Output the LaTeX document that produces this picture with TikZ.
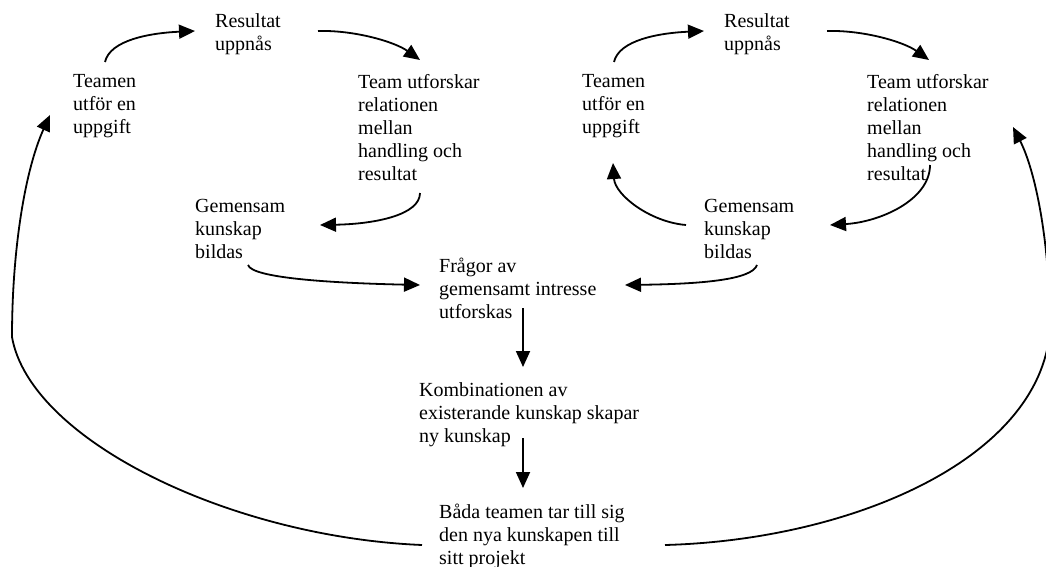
\documentclass[tikz,border=0pt]{standalone}
\usepackage{fontspec}
\setmainfont{Liberation Serif}
\usetikzlibrary{arrows.meta}
\begin{document}
\begin{tikzpicture}[x=1pt,y=-1pt,
  txt/.style={anchor=base west,inner sep=0pt,align=left,
    font=\fontsize{20}{23}\selectfont},
  flow/.style={line width=1.8pt,-{Triangle[length=16pt,width=14pt]}}]
\useasboundingbox (0,0) rectangle (1046,567);

% each text node sits on the baseline of its last line
% left cycle
\node[txt] (teamL) at (73,134)  {Teamen\\utför en\\uppgift};
\node[txt] (resL)  at (215,51)  {Resultat\\uppnås};
\node[txt] (utfL)  at (358,180) {Team utforskar\\relationen\\mellan\\handling och\\resultat};
\node[txt] (gemL)  at (195,258) {Gemensam\\kunskap\\bildas};

% right cycle
\node[txt] (teamR) at (582,134) {Teamen\\utför en\\uppgift};
\node[txt] (resR)  at (724,51)  {Resultat\\uppnås};
\node[txt] (utfR)  at (867,180) {Team utforskar\\relationen\\mellan\\handling och\\resultat};
\node[txt] (gemR)  at (704,258) {Gemensam\\kunskap\\bildas};

% shared column
\node[txt] (fragor) at (439,318) {Frågor av\\gemensamt intresse\\utforskas};
\node[txt] (komb)   at (419,442) {Kombinationen av\\existerande kunskap skapar\\ny kunskap};
\node[txt] (bada)   at (439,564) {Båda teamen tar till sig\\den nya kunskapen till\\sitt projekt};

% left cycle arrows
\draw[flow] ([shift={(32,-72)}]teamL.base west) .. controls +(5,-22) and +(-45,2) .. ([shift={(-20,-20)}]resL.base west);
\draw[flow] ([shift={(103,-20)}]resL.base west) .. controls +(37,-1) and +(-25,-18) .. ([shift={(62,-120)}]utfL.base west);
\draw[flow] ([shift={(62,13)}]utfL.base west) .. controls +(0,22) and +(55,-1) .. ([shift={(125,-33)}]gemL.base west);
\draw[flow] ([shift={(53,7)}]gemL.base west) .. controls +(4,13) and +(-90,-2) .. ([shift={(-19,-33)}]fragor.base west);

% right cycle arrows
\draw[flow] ([shift={(32,-72)}]teamR.base west) .. controls +(5,-22) and +(-45,2) .. ([shift={(-20,-20)}]resR.base west);
\draw[flow] ([shift={(103,-20)}]resR.base west) .. controls +(37,-1) and +(-25,-18) .. ([shift={(62,-120)}]utfR.base west);
\draw[flow] ([shift={(63,-15)}]utfR.base west) .. controls +(0,35) and +(50,-3) .. ([shift={(126,-33)}]gemR.base west);
\draw[flow] ([shift={(-18,-33)}]gemR.base west) .. controls +(-36,-3) and +(2,32) .. ([shift={(31,29)}]teamR.base west);
\draw[flow] ([shift={(53,7)}]gemR.base west) .. controls +(-5,15) and +(75,-1) .. ([shift={(186,-33)}]fragor.base west);

% shared column arrows
\draw[flow] ([shift={(84,-10)}]fragor.base west) -- ([shift={(104,-75)}]komb.base west);
\draw[flow] ([shift={(104,-4)}]komb.base west) -- ([shift={(84,-76)}]bada.base west);

% return loops to both teams
\draw[flow] ([shift={(-17,-19)}]bada.base west)
  .. controls +(-192,-8) and +(18,103) .. ++(-410,-208)
  .. controls +(0,-87) and +(-25,55) .. ([shift={(-23,-19)}]teamL.base west);
\draw[flow] ([shift={(226,-19)}]bada.base west)
  .. controls +(185,-5) and +(-10,130) .. ++(385,-215)
  .. controls +(0,-90) and +(22,43) .. ([shift={(146,-53)}]utfR.base west);
\end{tikzpicture}
\end{document}
